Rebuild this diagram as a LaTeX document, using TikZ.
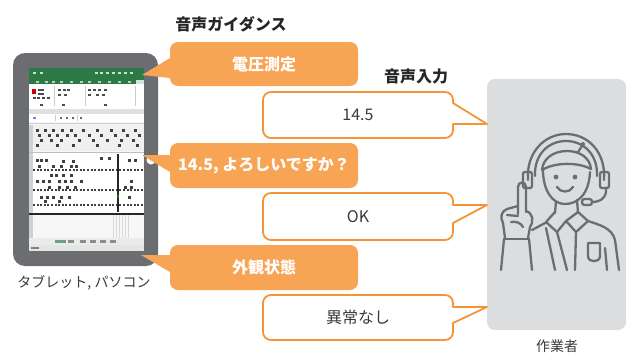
\documentclass[tikz,border=0pt]{standalone}
\usepackage{fontspec}
\setmainfont{Noto Sans CJK JP}
\definecolor{guide}{HTML}{F8A455}
\definecolor{lineorange}{HTML}{F39536}
\definecolor{slate}{HTML}{6C6D70}
\definecolor{panel}{HTML}{DCDDDF}
\definecolor{ink}{HTML}{3A3A3A}
\definecolor{xlgreen}{HTML}{2D7A47}
\tikzset{
  guidebubble/.style={fill=guide},
  replybubble/.style={fill=white,draw=lineorange,line width=1.8pt,line join=round},
  guidetext/.style={text=white,font=\fontsize{16}{18}\selectfont\bfseries},
  replytext/.style={text=ink,font=\fontsize{16}{18}\selectfont},
  headtext/.style={text=black!85,font=\fontsize{16}{18}\selectfont\bfseries},
  captext/.style={text=ink,font=\fontsize{14}{16}\selectfont},
  figline/.style={draw=slate,line width=2.3pt,line cap=round,line join=round},
  speck/.style={fill=black!75},
}
\begin{document}
\begin{tikzpicture}[x=1pt,y=-1pt]
\useasboundingbox (0,0) rectangle (628,354);

% ---------- tablet ----------
\fill[slate,rounded corners=12] (13,53) rectangle (158,266);
\fill[white] (151,160) circle (4.5);
\fill[black!3] (29,68) rectangle (144,251);
% title bar and tab row
\fill[xlgreen] (29,68) rectangle (144,84);
\fill[white!80!xlgreen] (136,80) rectangle (144,84);
\foreach \x in {33,40,95,100,106,112,118,124,130}
  \fill[white!75!xlgreen] (\x,72) rectangle ++(3,2);
\foreach \x in {36,45,52,60,70,80,88,98,108,118,128}
  \fill[white!65!xlgreen] (\x,81) rectangle ++(3,1.5);
% ribbon
\fill[white] (29,84) rectangle (144,109);
\draw[black!20,line width=0.6pt] (54,86) -- (54,106) (85,86) -- (85,106) (135,86) -- (135,106);
\fill[red!80!black] (32,89) rectangle (36,94);
\foreach \x/\y in {38/89,41/89,38/93,41/93,33/97,37/97,42/97,47/97,58/89,63/89,67/89,58/94,64/94,88/89,93/89,98/89,104/89,88/94,96/94,102/94,40/104,62/104,104/104}
  \fill[black!70] (\x,\y) rectangle ++(2.5,2);
% formula bar
\fill[black!12] (29,109) rectangle (144,114);
\fill[white] (29,114) rectangle (144,122);
\draw[black!20,line width=0.6pt] (55,115) -- (55,121) (77,115) -- (77,121) (29,123.5) -- (144,123.5);
\fill[blue!50] (33,117) rectangle ++(3,2);
\foreach \x in {60,66,72,80} \fill[black!60] (\x,117) rectangle ++(2,2);
% header block
\fill[black!6] (29,125) rectangle (144,151);
\fill[black!18] (29,125) rectangle (33,251);
\foreach \x/\y in {36/129,44/129,52/129,61/129,70/129,82/129,96/129,110/129,122/129,134/129,
                   38/134,48/134,56/134,66/134,74/134,88/134,100/134,114/134,126/134,138/134,
                   40/139,50/139,60/139,78/139,92/139,106/139,120/139,132/139,
                   36/144,56/144,72/144,96/144,118/144,136/144}
  \fill[speck] (\x,\y) rectangle ++(3,2.5);
\draw[black!25,line width=1pt] (29,152) -- (144,152);
% data area
\fill[white] (33,153) rectangle (144,213);
\foreach \y in {170,190,205}
  \draw[black!75,line width=1.1pt,dash pattern=on 2pt off 1.6pt] (33,\y) -- (144,\y);
\foreach \x/\y in {36/159,40/159,45/159,62/160,72/160,100/157,108/157,128/159,134/159,
                   38/165,52/165,60/165,70/165,75/165,50/174,55/174,62/174,70/174,
                   36/180,42/180,48/180,58/180,64/180,70/180,80/180,130/180,
                   48/186,58/186,66/186,74/186,124/186,130/186,
                   40/196,46/196,52/196,60/196,68/196,128/196,
                   44/200,58/200}
  \fill[speck] (\x,\y) rectangle ++(2.5,2.5);
\draw[black!85,line width=1.6pt] (118,154) -- (118,212);
\fill[green!50!black] (117,195) rectangle ++(2,3);
\draw[black!85,line width=1.6pt] (29,214) -- (144,214);
% lower sheet area and tabs
\foreach \x in {113,116,119,122,125,128}
  \draw[black!15,line width=0.5pt] (\x,215) -- (\x,238);
\fill[black!8] (29,238) rectangle (144,245);
\fill[xlgreen!70] (55,240) rectangle (66,243);
\foreach \x in {68,80,90,100,110} \fill[black!45] (\x,240) rectangle ++(6,2.5);
\fill[black!10] (29,245) rectangle (144,251);
\fill[black!50] (31,247) rectangle ++(8,2);

% ---------- worker panel ----------
\fill[panel,rounded corners=8] (487,79) rectangle (626,330);

% headset
\draw[figline] (528,180) .. controls (526,152) and (545,134) .. (566,134)
               .. controls (588,134) and (606,152) .. (604,180);
\draw[figline] (535,176) .. controls (534,155) and (548,141) .. (566,141)
               .. controls (584,141) and (598,155) .. (597,176);
\draw[figline,rounded corners=2] (523,172) rectangle (532,188);
\draw[figline,rounded corners=2] (600,172) rectangle (609,188);
% cap
\draw[figline] (542,170) .. controls (543,158) and (554,151) .. (567,151)
               .. controls (580,151) and (590,158) .. (591,169);
\draw[figline] (542,170) .. controls (555,162) and (578,162) .. (591,169);
\draw[figline] (578,152) -- (582,146);
\fill[slate] (583,144) circle (2);
% face
\draw[figline] (543,170) .. controls (543,190) and (552,204) .. (565,204)
               .. controls (578,204) and (589,194) .. (590,172);
\fill[slate] (556,177) circle (2.4);
\fill[slate] (575,177) circle (2.4);
\draw[figline] (557,187) .. controls (560,193) and (570,193) .. (573,187);
% microphone
\draw[figline] (606,188) .. controls (607,198) and (600,202) .. (592,202);
\draw[figline,rounded corners=2.5] (582,199) rectangle (592,205);
% neck and collar
\draw[figline] (556,201) -- (555,213);
\draw[figline] (577,200) -- (578,213);
\draw[figline] (555,212) -- (546,222) -- (557,232) -- (566,221) -- (578,212);
\draw[figline] (566,221) -- (576,232) -- (588,221) -- (578,212);
% torso
\draw[figline] (547,222) -- (532,230);
\draw[figline] (546,228) -- (555,270);
\draw[figline] (557,232) -- (567,270);
\draw[figline] (576,232) -- (575,270);
\draw[figline] (588,221) .. controls (600,225) and (612,228) .. (615,240) -- (619,270);
\draw[figline] (605,248) -- (607,270);
\draw[figline] (588,243) -- (588,256) .. controls (588,263) and (600,263) .. (600,256) -- (600,243) -- cycle;
% raised hand
\draw[figline] (518,214) -- (518,187) .. controls (518,181) and (526,181) .. (526,187) -- (526,212);
\draw[figline] (518,206) -- (507,209) .. controls (501,211) and (500,218) .. (503,223) -- (505,238);
\draw[figline] (526,211) .. controls (533,213) and (534,221) .. (530,227) -- (528,238);
\draw[figline] (507,215) -- (518,216);
\draw[figline] (511,222) .. controls (516,221) and (521,223) .. (523,227);
\draw[figline] (504,239) -- (529,239);
\draw[figline] (504,239) -- (501,270);
\draw[figline] (529,239) -- (532,270);

% ---------- guidance bubbles ----------
\fill[guidebubble] (142,75) -- (170,78) [rounded corners=8] -- (170,86) -- (358,86) -- (358,42) -- (170,42) [sharp corners] -- (170,58) -- cycle;
\fill[guidebubble] (142,155) -- (170,172) [rounded corners=8] -- (170,188) -- (358,188) -- (358,143) -- (170,143) [sharp corners] -- (170,155) -- cycle;
\fill[guidebubble] (141,255) -- (170,272) [rounded corners=8] -- (170,290) -- (358,290) -- (358,245) -- (170,245) [sharp corners] -- (170,255) -- cycle;
\node[guidetext] (g1) at (264,64) {電圧測定};
\node[guidetext] (g2) at (264,165.5) {14.5, よろしいですか？};
\node[guidetext] (g3) at (264,267.5) {外観状態};

% ---------- reply bubbles ----------
\path[replybubble] (487,124) -- (453,124) [rounded corners=8] -- (453,138) -- (263,138) -- (263,92) -- (453,92) [sharp corners] -- (453,103) -- cycle;
\path[replybubble] (487,205) -- (453,223) [rounded corners=8] -- (453,240) -- (263,240) -- (263,193) -- (453,193) [sharp corners] -- (453,205) -- cycle;
\path[replybubble] (487,307) -- (453,323) [rounded corners=8] -- (453,340) -- (263,340) -- (263,295) -- (453,295) [sharp corners] -- (453,307) -- cycle;
\node[replytext] (r1) at (358,115) {14.5};
\node[replytext] (r2) at (358,216.5) {OK};
\node[replytext] (r3) at (358,317.5) {異常なし};

% ---------- captions ----------
\node[headtext] (guidehead) at (231,24) {音声ガイダンス};
\node[headtext] (inputhead) at (416,76) {音声入力};
\node[captext] (devcap) at (84,283) {タブレット, パソコン};
\node[captext] (workcap) at (557,346) {作業者};
\end{tikzpicture}
\end{document}
